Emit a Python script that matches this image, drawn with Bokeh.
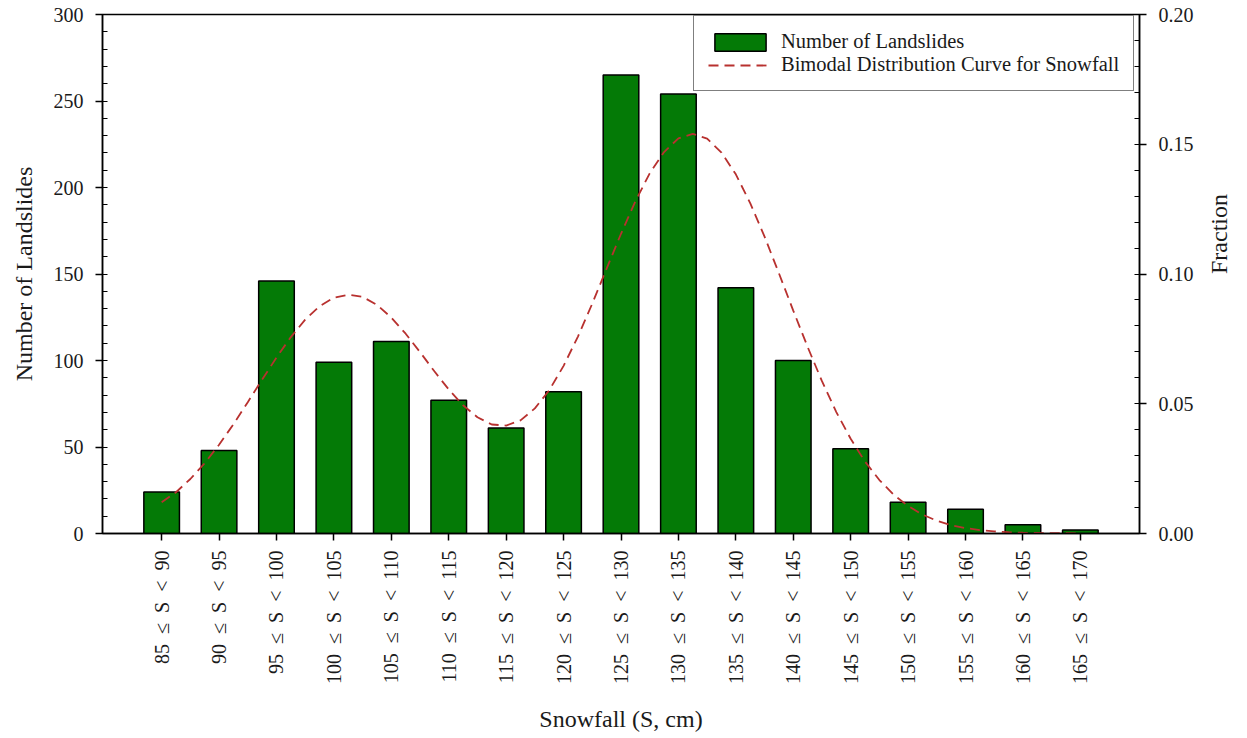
import math

from bokeh.plotting import figure
from bokeh.models import (Range1d, LinearAxis, FixedTicker, SingleIntervalTicker,
                          Legend, LegendItem, NumeralTickFormatter)
from bokeh.embed import file_html
from bokeh.resources import INLINE

# Snowfall classes (cm) and landslide counts per class
bin_lower = [85, 90, 95, 100, 105, 110, 115, 120, 125, 130, 135, 140, 145, 150, 155, 160, 165]
bin_upper = [90, 95, 100, 105, 110, 115, 120, 125, 130, 135, 140, 145, 150, 155, 160, 165, 170]
landslides = [24, 48, 146, 99, 111, 77, 61, 82, 265, 254, 142, 100, 49, 18, 14, 5, 2]

# Bimodal distribution curve (fraction) against snowfall (cm)
curve_snowfall = [
    87.5, 88.75, 90.0, 91.25, 92.5, 93.75, 95.0, 96.25, 97.5, 98.75,
    100.0, 101.25, 102.5, 103.75, 105.0, 106.25, 107.5, 108.75, 110.0, 111.25,
    112.5, 113.75, 115.0, 116.25, 117.5, 118.75, 120.0, 121.25, 122.5, 123.75,
    125.0, 126.25, 127.5, 128.75, 130.0, 131.25, 132.5, 133.75, 135.0, 136.25,
    137.5, 138.75, 140.0, 141.25, 142.5, 143.75, 145.0, 146.25, 147.5, 148.75,
    150.0, 151.25, 152.5, 153.75, 155.0, 156.25, 157.5, 158.75, 160.0, 161.25,
    162.5, 163.75, 165.0, 166.25, 167.5,
]
curve_fraction = [
    0.0120, 0.0159, 0.0210, 0.0271, 0.0342, 0.0421, 0.0506, 0.0593, 0.0678, 0.0757,
    0.0824, 0.0876, 0.0909, 0.0920, 0.0912, 0.0881, 0.0832, 0.0770, 0.0699, 0.0625,
    0.0555, 0.0494, 0.0448, 0.0420, 0.0416, 0.0436, 0.0482, 0.0552, 0.0646, 0.0759,
    0.0886, 0.1021, 0.1155, 0.1280, 0.1388, 0.1470, 0.1523, 0.1540, 0.1522, 0.1468,
    0.1384, 0.1273, 0.1144, 0.1003, 0.0859, 0.0719, 0.0587, 0.0468, 0.0365, 0.0277,
    0.0206, 0.0149, 0.0106, 0.0073, 0.0049, 0.0032, 0.0021, 0.0013, 0.0008, 0.0005,
    0.0003, 0.0002, 0.0001, 0.0001, 0.0000,
]

FONT = "Liberation Serif"
SP = "\u2002"  # en space, keeps the class labels airy

bin_mid = [(lo + hi) / 2 for lo, hi in zip(bin_lower, bin_upper)]
bin_labels = [f"{lo}{SP}\u2264{SP}S{SP}<{SP}{hi}" for lo, hi in zip(bin_lower, bin_upper)]

p = figure(
    width=1247, height=738,
    x_range=Range1d(82.35, 172.65), y_range=Range1d(0, 300),
    output_backend="svg", toolbar_location=None,
    min_border_left=102, min_border_right=105,
    min_border_top=14, min_border_bottom=205,
    background_fill_color="white", border_fill_color="white",
)
p.xgrid.visible = False
p.ygrid.visible = False
p.outline_line_color = "black"
p.outline_line_width = 1.5

p.extra_y_ranges = {"frac": Range1d(0, 0.20)}

bars = p.vbar(
    x=bin_mid, top=landslides, width=3.1, bottom=0,
    fill_color="#047a06", line_color="black", line_width=1.5,
)
curve = p.line(
    x=curve_snowfall, y=curve_fraction, y_range_name="frac",
    line_color="#b8312f", line_width=1.8, line_dash="10 6",
)

# x axis: one tick per snowfall class, labels reading bottom to top
xa = p.xaxis[0]
xa.ticker = FixedTicker(ticks=bin_mid)
xa.major_label_overrides = {m: lab for m, lab in zip(bin_mid, bin_labels)}
xa.major_label_orientation = math.pi / 2
xa.major_tick_out = 7
xa.major_tick_in = 0
xa.major_label_standoff = 10
xa.axis_label = "Snowfall (S, cm)"
xa.axis_label_standoff = 19

# left axis: landslide counts
ya = p.yaxis[0]
ya.ticker = SingleIntervalTicker(interval=50, num_minor_ticks=5)
ya.major_tick_out = 7
ya.major_tick_in = 0
ya.minor_tick_in = 5
ya.minor_tick_out = 0
ya.major_label_standoff = 12
ya.axis_label = "Number of Landslides"
ya.axis_label_standoff = 14

# right axis: fraction, title reading bottom to top
ra = LinearAxis(
    y_range_name="frac", axis_label="Fraction",
    ticker=SingleIntervalTicker(interval=0.05, num_minor_ticks=5),
    formatter=NumeralTickFormatter(format="0.00"),
)
ra.major_tick_out = 7
ra.major_tick_in = 0
ra.minor_tick_in = 5
ra.minor_tick_out = 0
ra.major_label_standoff = 12
ra.axis_label_standoff = 22
if "axis_label_orientation" in LinearAxis.properties():
    ra.axis_label_orientation = math.pi / 2
p.add_layout(ra, "right")

for ax in (xa, ya, ra):
    ax.axis_line_color = "black"
    ax.axis_line_width = 1.5
    ax.major_tick_line_color = "black"
    ax.major_tick_line_width = 1.5
    ax.minor_tick_line_color = "black" if ax is not xa else None
    ax.minor_tick_line_width = 1.2
    ax.major_label_text_font = FONT
    ax.major_label_text_font_size = "20px"
    ax.major_label_text_color = "#1a1a1a"
    ax.axis_label_text_font = FONT
    ax.axis_label_text_font_size = "24px"
    ax.axis_label_text_font_style = "normal"
    ax.axis_label_text_color = "#1a1a1a"

legend = Legend(
    items=[
        LegendItem(label="Number of Landslides", renderers=[bars]),
        LegendItem(label="Bimodal Distribution Curve for Snowfall", renderers=[curve]),
    ],
    location=(591, 442),
    border_line_color="black", border_line_width=1.5,
    background_fill_color="white", background_fill_alpha=1.0,
    label_text_font=FONT, label_text_font_size="20.5px", label_text_color="#1a1a1a",
    glyph_width=64, glyph_height=22, label_height=22,
    label_standoff=9, padding=14, spacing=0, margin=0,
)
p.add_layout(legend)

open("out.html", "w").write(file_html(p, INLINE))
